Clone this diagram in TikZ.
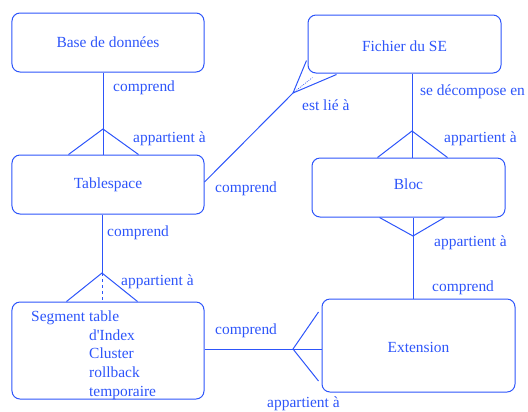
\documentclass[tikz,border=0pt]{standalone}
\usepackage{fontspec}
\setmainfont{Liberation Serif}
\usetikzlibrary{calc}
\definecolor{erblue}{RGB}{45,85,250}
\begin{document}
\begin{tikzpicture}[x=1bp,y=-1bp,
  every node/.style={font=\fontsize{15.5}{18}\selectfont, text=erblue},
  entity/.style={draw=erblue, line width=1bp, rounded corners=8bp, rectangle,
    minimum width=192bp, inner sep=0pt},
  lbl/.style={anchor=mid west, inner sep=0pt},
  link/.style={draw=erblue, line width=1bp},
  dashlink/.style={draw=erblue, line width=1bp, dash pattern=on 3bp off 3bp},
  dotlink/.style={draw=erblue, line width=0.6bp, dash pattern=on 1bp off 1.2bp}]
\useasboundingbox (0,0) rectangle (528,411);

% entities
\node[entity, minimum height=59bp] (base) at (108,42.5) {Base de données};
\node[entity, minimum height=59bp] (table) at (108,184.5) {Tablespace};
\node[entity, minimum height=97bp] (seg) at (108,350.5) {};
\node[entity, minimum width=193bp, minimum height=58bp, text height=15bp] (fich) at (404.5,44) {Fichier du SE};
\node[entity, minimum width=193bp, minimum height=59bp, text depth=6bp] (bloc) at (408.5,187.5) {Bloc};
\node[entity, minimum width=193bp, minimum height=93bp, text height=15bp] (ext) at (418.5,345.5) {Extension};

% segment kinds
\node[lbl] (s1) at (31,319) {Segment table};
\node[lbl] (s2) at (89,338) {d\textquotesingle Index};
\node[lbl] (s3) at (89,356) {Cluster};
\node[lbl] (s4) at (89,375) {rollback};
\node[lbl] (s5) at (89,394) {temporaire};

% Base de données -- Tablespace
\coordinate (c1) at (103,129);
\draw[link] (c1 |- base.south) -- (c1 |- table.north);
\draw[link] ($(table.north west)+(57,0)$) -- (c1) -- ($(table.north west)+(127,0)$);

% Tablespace -- Segment
\coordinate (c2) at (102,273);
\draw[link] (c2 |- table.south) -- (c2);
\draw[dashlink] (c2) -- (c2 |- seg.north);
\draw[link] ($(seg.north west)+(55,0)$) -- (c2) -- ($(seg.north west)+(126,0)$);

% Fichier du SE -- Bloc
\coordinate (c3) at (412,131);
\draw[link] (c3 |- fich.south) -- (c3 |- bloc.north);
\draw[link] ($(bloc.north west)+(66,0)$) -- (c3) -- ($(bloc.north west)+(136,0)$);

% Bloc -- Extension
\coordinate (c4) at (413,236);
\draw[link] (c4 |- bloc.south) -- (c4 |- ext.north);
\draw[link] ($(bloc.south west)+(68,0)$) -- (c4) -- ($(bloc.south west)+(133,0)$);

% Segment -- Extension
\coordinate (c5) at (293,349);
\draw[link] (seg.east |- c5) -- (ext.west |- c5);
\draw[link] ($(ext.west |- c5)+(-3,-37)$) -- (c5) -- ($(ext.west |- c5)+(-3,32)$);

% Tablespace -- Fichier du SE
\coordinate (c6) at (293,93);
\coordinate (t6) at (table.east |- 0,182);
\draw[link] (t6) -- (c6);
\draw[link] ($(fich.north west)+(-1,46)$) -- (c6) -- ($(fich.south west)+(29,1)$);
\draw[dotlink] (c6) -- ($(fich.south west)+(5,4)$);

% relationship labels
\node[lbl] (l1) at (113,89) {comprend};
\node[lbl] (l2) at (133,140) {appartient à};
\node[lbl] (l3) at (107,234) {comprend};
\node[lbl] (l4) at (121,283) {appartient à};
\node[lbl] (l5) at (215,190) {comprend};
\node[lbl] (l6) at (302,108) {est lié à};
\node[lbl] (l7) at (420,93) {se décompose en};
\node[lbl] (l8) at (444,140) {appartient à};
\node[lbl] (l9) at (434,244) {appartient à};
\node[lbl] (l10) at (432,289) {comprend};
\node[lbl] (l11) at (215,332) {comprend};
\node[lbl] (l12) at (267,405) {appartient à};
\end{tikzpicture}
\end{document}
